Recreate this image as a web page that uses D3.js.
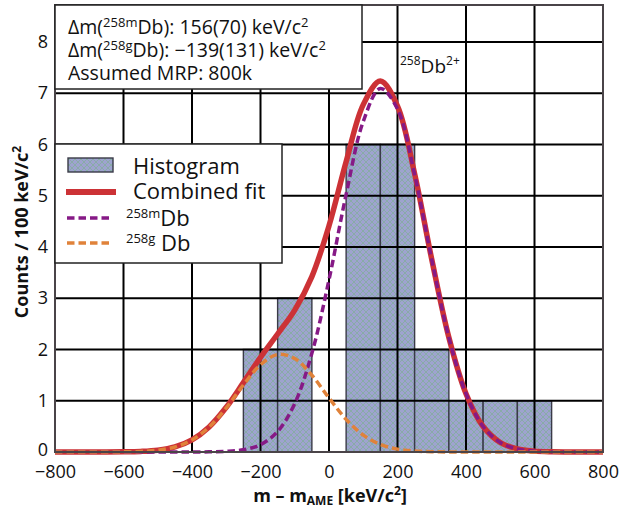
<!DOCTYPE html>
<html>
<head>
<meta charset="utf-8">
<script src="https://cdn.jsdelivr.net/npm/d3@7"></script>
<style>
  body { margin: 0; background: #fff; }
  text { font-family: 'Open Sans', sans-serif; fill: #111; }
</style>
</head>
<body>
<div id="chart"></div>
<script>
// histogram: bin left edges (keV/c2) and counts per 100 keV/c2
var binStart = [-250, -150, -50, 50, 150, 250, 350, 450, 550]
var binCounts = [2, 3, 0, 6, 6, 2, 1, 1, 1]
var binWidth = 100

// fit curves, every 50 keV/c2
var fitX = [-800, -750, -700, -650, -600, -550, -500, -450, -400, -350, -300, -250, -200, -150, -100, -50,
  0, 50, 100, 150, 200, 250, 300, 350, 400, 450, 500, 550, 600, 650, 700, 750, 800]
var fitCombined = [0, 0, 0.0001, 0.0006, 0.003, 0.011, 0.035, 0.098, 0.236, 0.489, 0.872, 1.353, 1.847, 2.302, 2.769, 3.422,
  4.413, 5.662, 6.777, 7.238, 6.746, 5.428, 3.757, 2.233, 1.137, 0.497, 0.186, 0.06, 0.017, 0.004, 0.001, 0, 0]
var fitM = [0, 0, 0, 0, 0, 0, 0, 0, 0.0005, 0.003, 0.012, 0.045, 0.144, 0.399, 0.946, 1.925,
  3.359, 5.025, 6.447, 7.092, 6.69, 5.41, 3.752, 2.232, 1.137, 0.497, 0.186, 0.06, 0.017, 0.004, 0.001, 0, 0]
var fitG = [0, 0, 0.0001, 0.0006, 0.003, 0.011, 0.035, 0.098, 0.235, 0.486, 0.86, 1.308, 1.703, 1.903, 1.823, 1.497,
  1.054, 0.637, 0.33, 0.146, 0.056, 0.018, 0.005, 0.001, 0, 0, 0, 0, 0, 0, 0, 0, 0]

var xTicks = [-800, -600, -400, -200, 0, 200, 400, 600, 800]
var yTicks = [0, 1, 2, 3, 4, 5, 6, 7, 8]

var colBar = '#9ea3cf'
var colHatch = '#78b08c'
var colRed = '#cc3236'
var colPurple = '#861a86'
var colOrange = '#e0823a'

var svg = d3.select('#chart').append('svg')
  .attr('width', 633)
  .attr('height', 509)

var x = d3.scaleLinear().domain([-800, 800]).range([55, 603])
var y = d3.scaleLinear().domain([0, 8.72]).range([452, 5])

var defs = svg.append('defs')
var pat = defs.append('pattern')
  .attr('id', 'hatch')
  .attr('patternUnits', 'userSpaceOnUse')
  .attr('width', 6)
  .attr('height', 6)
pat.append('rect').attr('width', 6).attr('height', 6).attr('fill', colBar)
pat.append('path')
  .attr('d', 'M0,0L6,6M6,0L0,6')
  .attr('stroke', colHatch)
  .attr('stroke-width', 0.6)

// bars
svg.append('g').selectAll('rect')
  .data(binCounts)
  .enter()
  .append('rect')
  .attr('x', function (d, i) { return x(binStart[i]) })
  .attr('width', function (d, i) { return x(binStart[i] + binWidth) - x(binStart[i]) })
  .attr('y', function (d) { return y(d) })
  .attr('height', function (d) { return y(0) - y(d) })
  .attr('fill', 'url(#hatch)')
  .attr('stroke', '#3a3a48')
  .attr('stroke-width', 1.4)

// grid on top of the bars
var grid = svg.append('g').attr('stroke', '#000').attr('stroke-width', 2)
grid.selectAll('.gx')
  .data(xTicks.slice(1, -1))
  .enter().append('line')
  .attr('x1', function (d) { return x(d) })
  .attr('x2', function (d) { return x(d) })
  .attr('y1', y(0))
  .attr('y2', y(8.72))
grid.selectAll('.gy')
  .data(yTicks.slice(1))
  .enter().append('line')
  .attr('x1', x(-800))
  .attr('x2', x(800))
  .attr('y1', function (d) { return y(d) })
  .attr('y2', function (d) { return y(d) })

// curves
var line = function (vals) {
  return d3.line()
    .x(function (d, i) { return x(fitX[i]) })
    .y(function (d) { return y(d) })
    .curve(d3.curveCatmullRom)(vals)
}
svg.append('path')
  .attr('d', line(fitCombined))
  .attr('fill', 'none')
  .attr('stroke', colRed)
  .attr('stroke-width', 5.5)
svg.append('path')
  .attr('d', line(fitM))
  .attr('fill', 'none')
  .attr('stroke', colPurple)
  .attr('stroke-width', 3.5)
  .attr('stroke-dasharray', '7.5,4')
svg.append('path')
  .attr('d', line(fitG))
  .attr('fill', 'none')
  .attr('stroke', colOrange)
  .attr('stroke-width', 3.5)
  .attr('stroke-dasharray', '7.5,4')

// frame
svg.append('rect')
  .attr('x', x(-800))
  .attr('y', y(8.72))
  .attr('width', x(800) - x(-800))
  .attr('height', y(0) - y(8.72))
  .attr('fill', 'none')
  .attr('stroke', '#4a4448')
  .attr('stroke-width', 2)

// axes
var xAxis = svg.append('g')
  .attr('transform', 'translate(0,' + y(0) + ')')
  .call(d3.axisBottom(x).tickValues(xTicks).tickSize(0).tickPadding(13)
    .tickFormat(function (d) { return d < 0 ? '\u2212' + Math.abs(d) : d }))
xAxis.select('.domain').remove()
xAxis.selectAll('text').style('font-size', '18px').attr('fill', '#111')

var yAxis = svg.append('g')
  .attr('transform', 'translate(' + x(-800) + ',0)')
  .call(d3.axisLeft(y).tickValues(yTicks).tickSize(0).tickPadding(7))
yAxis.select('.domain').remove()
yAxis.selectAll('text').style('font-size', '18px').attr('fill', '#111')
yAxis.selectAll('.tick').filter(function (d) { return d === 0 }).select('text').attr('dy', '0.2em')

// axis titles
var xt = svg.append('text')
  .attr('x', 330)
  .attr('y', 502)
  .attr('text-anchor', 'middle')
  .style('font-size', '18px')
  .style('font-weight', 'bold')
xt.append('tspan').text('m \u2013 m')
xt.append('tspan').attr('dy', 3).style('font-size', '12px').text('AME')
xt.append('tspan').attr('dy', -3).text(' [keV/c')
xt.append('tspan').attr('dy', -7).style('font-size', '12px').text('2')
xt.append('tspan').attr('dy', 7).text(']')

var yt = svg.append('text')
  .attr('transform', 'translate(28,232) rotate(-90)')
  .attr('text-anchor', 'middle')
  .style('font-size', '18px')
  .style('font-weight', 'bold')
yt.append('tspan').text('Counts  /  100 keV/c')
yt.append('tspan').attr('dy', -7).style('font-size', '12px').text('2')

// annotation box
svg.append('rect')
  .attr('x', 55).attr('y', 5)
  .attr('width', 307).attr('height', 84)
  .attr('fill', '#fff')
  .attr('stroke', '#222')
  .attr('stroke-width', 1.5)

function sup (sel, parts) {
  parts.forEach(function (p) {
    var t = sel.append('tspan').text(p[0])
    if (p[1]) t.style('font-size', p[1] + 'px')
    if (p[2]) t.attr('dy', p[2])
  })
}

var a1 = svg.append('text').attr('x', 68).attr('y', 34).style('font-size', '19.5px')
sup(a1, [['\u0394m('], ['258m', 13, -7], ['Db): 156(70) keV/c', 0, 7], ['2', 13, -7]])
var a2 = svg.append('text').attr('x', 68).attr('y', 57).style('font-size', '19.5px')
sup(a2, [['\u0394m('], ['258g', 13, -7], ['Db): \u2212139(131) keV/c', 0, 7], ['2', 13, -7]])
svg.append('text').attr('x', 68).attr('y', 80).style('font-size', '19.5px').text('Assumed MRP: 800k')

// peak label
var pk = svg.append('text').attr('x', 400).attr('y', 73).style('font-size', '19px')
sup(pk, [['258', 12, -8], ['Db', 0, 8], ['2+', 12, -8]])

// legend
svg.append('rect')
  .attr('x', 55).attr('y', 144)
  .attr('width', 227).attr('height', 119)
  .attr('fill', '#fff')
  .attr('stroke', '#222')
  .attr('stroke-width', 1.5)

svg.append('rect')
  .attr('x', 68).attr('y', 158)
  .attr('width', 45).attr('height', 14)
  .attr('fill', 'url(#hatch)')
  .attr('stroke', '#3a3a48')
  .attr('stroke-width', 1.4)
svg.append('line')
  .attr('x1', 66).attr('x2', 116).attr('y1', 192).attr('y2', 192)
  .attr('stroke', colRed).attr('stroke-width', 6)
svg.append('line')
  .attr('x1', 67).attr('x2', 110).attr('y1', 218).attr('y2', 218)
  .attr('stroke', colPurple).attr('stroke-width', 3.5).attr('stroke-dasharray', '7.5,4')
svg.append('line')
  .attr('x1', 67).attr('x2', 110).attr('y1', 243).attr('y2', 243)
  .attr('stroke', colOrange).attr('stroke-width', 3.5).attr('stroke-dasharray', '7.5,4')

svg.append('text').attr('x', 133).attr('y', 174).style('font-size', '22px').text('Histogram')
svg.append('text').attr('x', 133).attr('y', 199).style('font-size', '22px').text('Combined fit')
var l3 = svg.append('text').attr('x', 126).attr('y', 226).style('font-size', '22px')
sup(l3, [['258m', 13, -8], ['Db', 22, 8]])
var l4 = svg.append('text').attr('x', 126).attr('y', 251).style('font-size', '22px')
sup(l4, [['258g', 13, -8], [' Db', 22, 8]])
</script>
</body>
</html>
